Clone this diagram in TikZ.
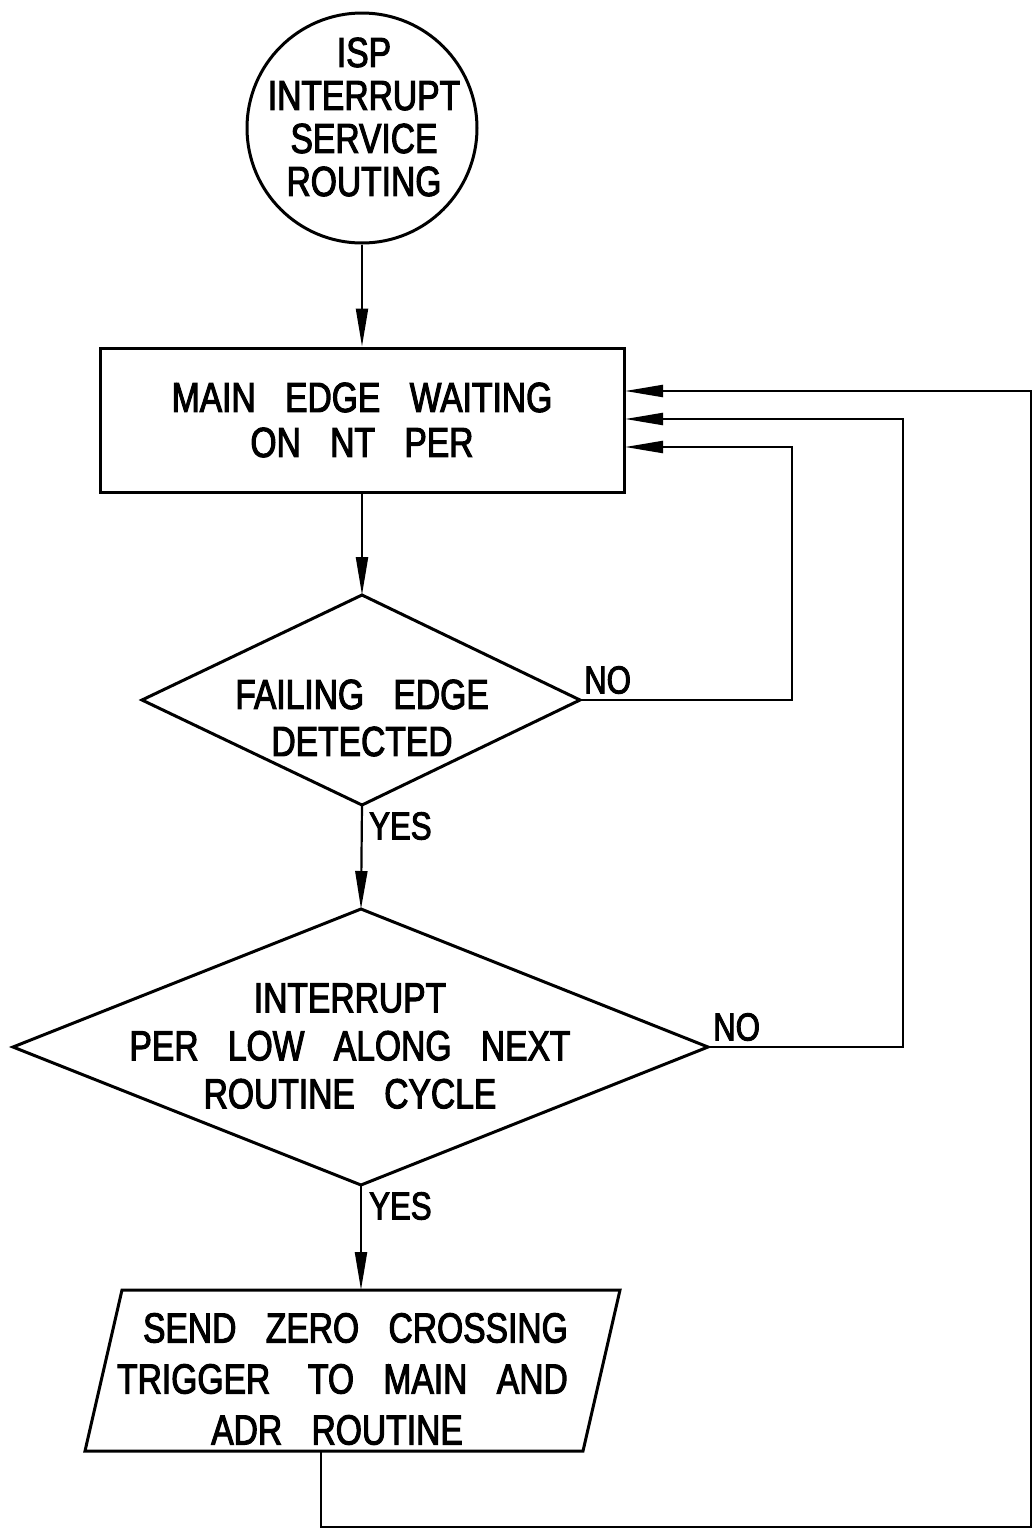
\documentclass[tikz,border=0pt]{standalone}
\usepackage{fontspec}
\setmainfont{Liberation Sans}[FakeStretch=0.8,FakeBold=2.5]
\usetikzlibrary{arrows.meta}
\newcommand\gp{\hspace{0.7em}}
\begin{document}
\begin{tikzpicture}[x=1pt,y=-1pt,
  txt/.style={align=center, inner sep=0pt},
  outline/.style={line width=3pt, line join=miter},
  conn/.style={line width=2.2pt},
  arr/.style={conn, -{Triangle[length=38pt,width=12pt]}},
  tag/.style={font=\fontsize{39}{40}\selectfont, inner sep=0pt}]
\useasboundingbox (0,0) rectangle (1033,1532);
\fill[white] (0,0) rectangle (1033,1532);

% start circle
\node[draw, circle, outline, minimum size=230pt, inner sep=0pt] (start) at (362,128) {};
\node[txt, font=\fontsize{42}{43}\selectfont] (starttxt) at (364,117) {ISP\\INTERRUPT\\SERVICE\\ROUTING};

% process box
\node[draw, outline, minimum width=524pt, minimum height=144pt, inner sep=0pt,
      align=center, font=\fontsize{42}{45}\selectfont] (wait) at (362,420)
      {MAIN\gp EDGE\gp WAITING\\ON\gp NT\gp PER};

% decision 1
\coordinate (d1t) at (362,595);
\coordinate (d1r) at (580,700);
\coordinate (d1b) at (362,805);
\coordinate (d1l) at (142,700);
\draw[outline] (d1t) -- (d1r) -- (d1b) -- (d1l) -- cycle;
\node[txt, font=\fontsize{42}{47}\selectfont] (d1txt) at (362,718) {FAILING\gp EDGE\\DETECTED};

% decision 2
\coordinate (d2t) at (361,909);
\coordinate (d2r) at (708,1047);
\coordinate (d2b) at (361,1185);
\coordinate (d2l) at (13,1047);
\draw[outline] (d2t) -- (d2r) -- (d2b) -- (d2l) -- cycle;
\node[txt, font=\fontsize{42}{48}\selectfont] (d2txt) at (350,1046)
  {INTERRUPT\\PER\gp LOW\gp ALONG\gp NEXT\\ROUTINE\gp CYCLE};

% output parallelogram
\coordinate (ptl) at (122,1290);
\coordinate (ptr) at (620,1290);
\coordinate (pbr) at (583,1451);
\coordinate (pbl) at (85,1451);
\draw[outline] (ptl) -- (ptr) -- (pbr) -- (pbl) -- cycle;
\node[inner sep=0pt, align=right, anchor=east, font=\fontsize{42}{51}\selectfont] (ptxt) at (568,1379)
  {SEND\gp ZERO\gp CROSSING\\TRIGGER\hspace{0.9em}TO\gp MAIN\gp AND\\ADR\gp ROUTINE\hspace*{105pt}};
\coordinate (pin) at (361,1290);
\coordinate (pout) at (321,1451);

% entry points on the box
\coordinate (in1) at (625,391);
\coordinate (in2) at (625,419);
\coordinate (in3) at (625,447);

% main flow
\draw[arr] (start.south) -- (wait.north);
\draw[arr] (wait.south) -- (d1t);
\draw[arr] (d1b) -- (d2t);
\draw[arr] (d2b) -- (pin);

% loops
\draw[arr] (d1r) -- (792,700) |- (in3);
\draw[arr] (d2r) -- (903,1047) |- (in2);
\draw[arr] (pout) |- (1031,1527) |- (in1);

% labels
\node[tag, anchor=south west] (no1) at (584,694) {NO};
\node[tag, anchor=north west] (yes1) at (369,812) {YES};
\node[tag, anchor=south west] (no2) at (713,1041) {NO};
\node[tag, anchor=north west] (yes2) at (369,1192) {YES};
\end{tikzpicture}
\end{document}
